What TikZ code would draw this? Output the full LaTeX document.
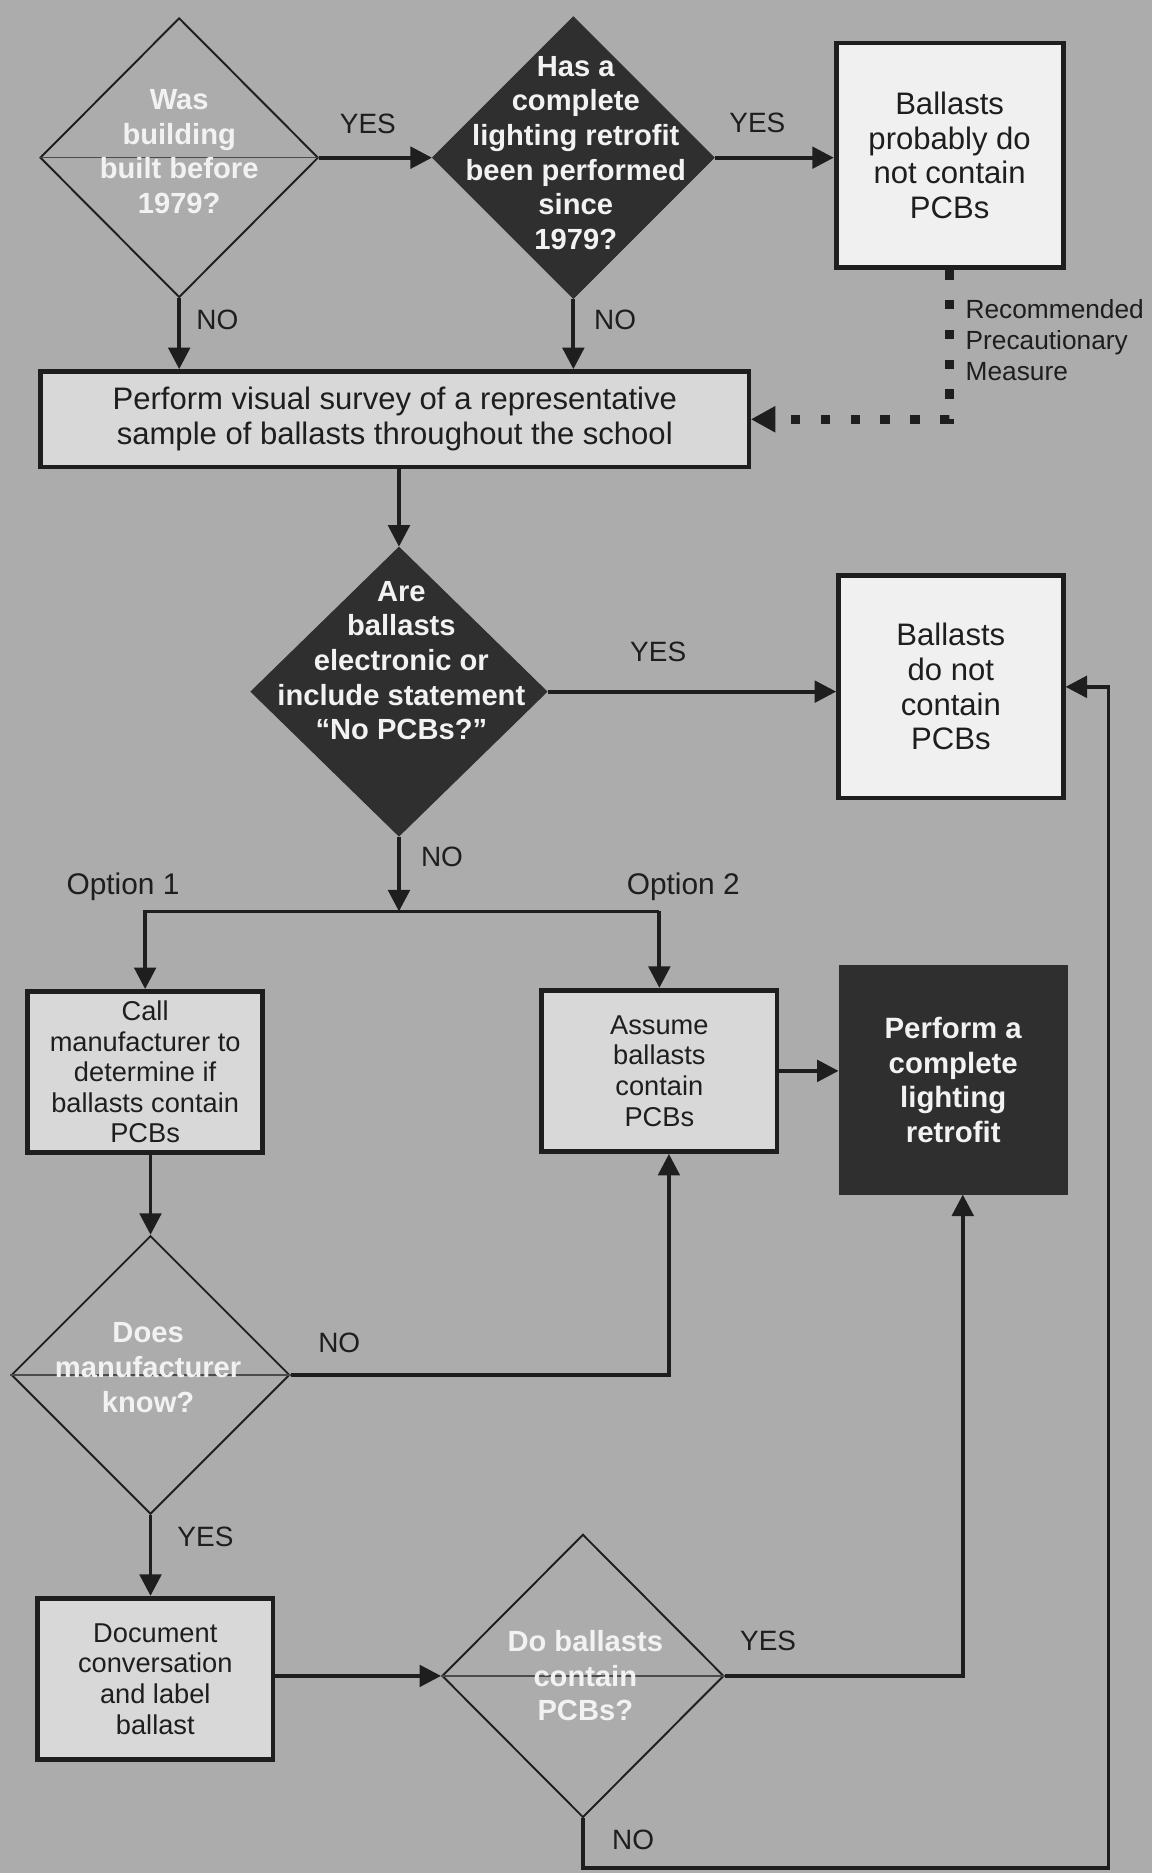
\documentclass[tikz,border=0pt]{standalone}
\usepackage{fontspec}
\setmainfont{Liberation Sans}
\usepackage{tikz}
\usetikzlibrary{shapes.geometric, arrows.meta, positioning}

\definecolor{paper}{HTML}{ACACAC}
\definecolor{ink}{HTML}{1E1E1E}
\definecolor{boxwhite}{HTML}{F0F0F0}
\definecolor{boxlight}{HTML}{D8D8D8}
\definecolor{boxdark}{HTML}{2F2F2F}
\definecolor{chalk}{HTML}{F2F2F2}

\tikzset{
    flow/.style={draw=ink, line width=1.6pt, -{Triangle[length=9pt, width=9pt]}},
    plain/.style={draw=ink, line width=1.6pt},
    dotflow/.style={draw=ink, line width=4pt, dash pattern=on 4pt off 8.5pt,
        -{Triangle[length=10pt, width=11pt, line width=0.4pt]}},
    thinrule/.style={draw=ink!80, line width=0.5pt},
    dia/.style={diamond, draw=ink, line width=0.8pt, inner sep=0pt},
    darkdia/.style={diamond, fill=boxdark, draw=boxdark, inner sep=0pt},
    qtext/.style={align=center, text=chalk, font=\bfseries\fontsize{12.2}{14.5}\selectfont},
    bigbox/.style={draw=ink, line width=2pt, fill=boxwhite, align=center, text=ink,
        font=\fontsize{13}{14.5}\selectfont, inner sep=0pt},
    smallbox/.style={draw=ink, line width=2pt, fill=boxlight, align=center, text=ink,
        font=\fontsize{11.4}{12.8}\selectfont, inner sep=0pt,
        minimum width=98.5pt, minimum height=67.5pt},
    lbl/.style={text=ink, inner sep=1pt, font=\fontsize{11.7}{14}\selectfont}
}

\begin{document}
\begin{tikzpicture}[x=0.5pt, y=0.5pt]
    % page
    \fill[paper] (0,0) rectangle (964,-1568);
    \useasboundingbox (0,0) rectangle (964,-1568);

    % Top row
    \node[dia, minimum width=116.5pt, minimum height=117pt] (built) at (150,-132) {};
    \draw[thinrule] (built.west) -- (built.east);
    \node[qtext] (builtT) at (150,-127) {Was\\building\\built before\\1979?};

    \node[darkdia, minimum width=118pt, minimum height=118pt] (retro) at (480,-132) {};
    \node[qtext] (retroT) at (482,-128) {Has a\\complete\\lighting retrofit\\been performed\\since\\1979?};

    \node[bigbox, minimum width=95pt, minimum height=94pt] (probably) at (795,-130)
        {Ballasts\\probably do\\not contain\\PCBs};

    % Survey
    \node[bigbox, fill=boxlight, minimum width=296.5pt, minimum height=40pt] (survey) at (330.5,-351)
        {Perform visual survey of a representative\\sample of ballasts throughout the school};

    \draw[flow] (built.east) -- (retro.west);
    \node[lbl] (yes1) at (308,-104) {YES};
    \draw[flow] (retro.east) -- (retro.east -| probably.west);
    \node[lbl] (yes2) at (634,-103) {YES};
    \draw[flow] (built.south) -- (built.south |- survey.north);
    \node[lbl] (no1) at (182,-268) {NO};
    \draw[flow] (retro.south) -- (retro.south |- survey.north);
    \node[lbl] (no2) at (515,-268) {NO};

    % Precaution
    \draw[dotflow] (probably.south) |- (survey.east);
    \node[anchor=west, align=left, text=ink, inner sep=0pt,
        font=\fontsize{11}{13}\selectfont] (precaution) at (808,-285)
        {Recommended\\Precautionary\\Measure};

    % Electronic
    \node[darkdia, minimum width=124pt, minimum height=121pt] (electronic) at (334,-579) {};
    \node[qtext] (electronicT) at (336,-553) {Are\\ballasts\\electronic or\\include statement\\``No PCBs?''};
    \draw[flow] (electronic.north |- survey.south) -- (electronic.north);

    \node[bigbox, minimum width=94pt, minimum height=93pt] (nopcb) at (796,-575)
        {Ballasts\\do not\\contain\\PCBs};
    \draw[flow] (electronic.east) -- (electronic.east -| nopcb.west);
    \node[lbl] (yes3) at (551,-546) {YES};

    % Options
    \coordinate (split) at (334,-763);
    \draw[flow] (electronic.south) -- (split);
    \node[lbl] (no3) at (370,-717) {NO};

    \node[smallbox] (call) at (121.5,-897.5) {Call\\manufacturer to\\determine if\\ballasts contain\\PCBs};
    \node[smallbox] (assume) at (552,-896.5) {Assume\\ballasts\\contain\\PCBs};
    \node[bigbox, fill=boxdark, draw=boxdark, text=chalk, font=\bfseries\fontsize{12.3}{14.5}\selectfont,
        minimum width=94pt, minimum height=94pt] (perform) at (798,-904)
        {Perform a\\complete\\lighting\\retrofit};

    \draw[flow] (assume.north |- split) -| (call.north);
    \draw[flow] (assume.north |- split) -- (assume.north);
    \node[lbl, font=\fontsize{12.5}{14}\selectfont] (opt1) at (103,-742) {Option 1};
    \node[lbl, font=\fontsize{12.5}{14}\selectfont] (opt2) at (572,-742) {Option 2};
    \draw[flow] (assume.east) -- (assume.east -| perform.west);

    % Manufacturer
    \node[dia, minimum width=116.5pt, minimum height=116.5pt] (knows) at (126,-1151) {};
    \draw[thinrule] (knows.west) -- (knows.east);
    \node[qtext] (knowsT) at (124,-1145) {Does\\manufacturer\\know?};
    \draw[flow] (knows.north |- call.south) -- (knows.north);
    \draw[flow] (knows.east) -| ([xshift=4pt]assume.south);
    \node[lbl] (no4) at (284,-1124) {NO};

    \node[smallbox] (document) at (130,-1405.5) {Document\\conversation\\and label\\ballast};
    \draw[flow] (knows.south) -- (knows.south |- document.north);
    \node[lbl] (yes4) at (172,-1287) {YES};

    % Contain
    \node[dia, minimum width=118pt, minimum height=118.5pt] (contain) at (488,-1403) {};
    \draw[thinrule] (contain.west) -- (contain.east);
    \node[qtext] (containT) at (490,-1403) {Do ballasts\\contain\\PCBs?};
    \draw[flow] (document.east |- contain.west) -- (contain.west);
    \draw[flow] (contain.east) -| ([xshift=4pt]perform.south);
    \node[lbl] (yes5) at (643,-1374) {YES};

    \coordinate (loop) at (928,-1564);
    \draw[flow] (contain.south) |- (loop) |- (nopcb.east);
    \node[lbl] (no5) at (530,-1540) {NO};
\end{tikzpicture}
\end{document}
